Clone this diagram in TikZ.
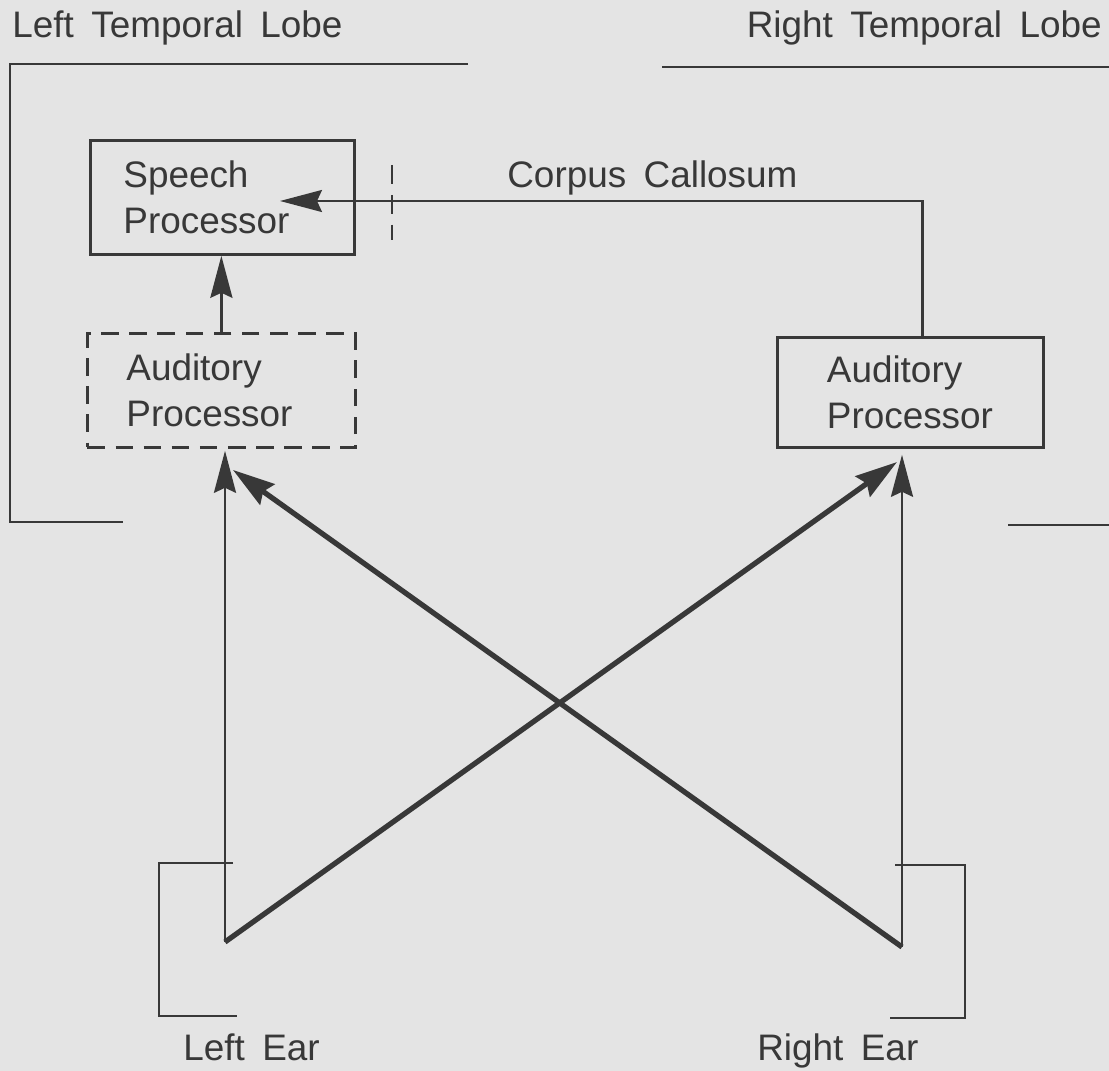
\documentclass[tikz,border=0pt]{standalone}
\usepackage{fontspec}
\setmainfont{Liberation Sans}[WordSpace=1.7]
\usetikzlibrary{arrows.meta}
\definecolor{paper}{HTML}{E4E4E4}
\definecolor{ink}{HTML}{383838}
\newcommand{\figfont}{\fontsize{21pt}{26.2pt}\selectfont}

\begin{document}
\begin{tikzpicture}[x=0.02cm, y=-0.02cm,
        proc/.style={draw=ink, line width=1.6pt, rectangle, anchor=north west, align=left, inner sep=0pt, text=ink, font=\figfont},
        lbl/.style={text=ink, font=\figfont, inner sep=0pt},
        wall/.style={draw=ink, line width=1.5pt},
        feed/.style={draw=ink, line width=1.6pt, -{Stealth[length=0.84cm, width=0.44cm, inset=0.1cm]}},
        cross/.style={draw=ink, line width=3pt, -{Stealth[length=0.84cm, width=0.5cm, inset=0.1cm]}}]
        % Background
        \fill[paper] (0,0) rectangle (1109,1071);
        \useasboundingbox (0,0) rectangle (1109,1071);

        % Nodes
        \node[proc, minimum width=5.28cm, minimum height=2.28cm, text width=3.96cm] (speech) at (89,139) {Speech\\Processor};
        \node[proc, dash pattern=on 10pt off 6pt, minimum width=5.36cm, minimum height=2.28cm, text width=3.8cm] (laud) at (86,332) {Auditory\\Processor};
        \node[proc, minimum width=5.32cm, minimum height=2.2cm, text width=3.34cm] (raud) at (776,336) {Auditory\\Processor};

        \node[lbl, anchor=base west] (ltl) at (12,38) {Left Temporal Lobe};
        \node[lbl, anchor=base east] (rtl) at (1102,38) {Right Temporal Lobe};
        \node[lbl, anchor=base west] (cc) at (507,188) {Corpus Callosum};
        \node[lbl, anchor=base west] (lear) at (183,1060) {Left Ear};
        \node[lbl, anchor=base west] (rear) at (757,1060) {Right Ear};

        \coordinate (lsrc) at (225,942);
        \coordinate (rsrc) at (902,947);
        \coordinate (lin) at (233,470);
        \coordinate (rin) at (897,462);
        \coordinate (cctip) at (280,201);

        % Lobes and ears
        \draw[wall] (468,64) -- (10,64) -- (10,522) -- (123,522);
        \draw[wall] (662,67) -- (1109,67);
        \draw[wall] (1008,525) -- (1109,525);
        \draw[wall] (233,863) -- (159,863) -- (159,1016) -- (237,1016);
        \draw[wall] (895,865) -- (965,865) -- (965,1018) -- (890,1018);
        \draw[wall, dash pattern=on 11pt off 6pt] (392,165) -- (392,240);

        % Arrows
        \draw[feed] (laud.north) -- (laud.north |- speech.south);
        \draw[feed, line width=1.3pt] ([xshift=0.24cm]raud.north) |- (cctip);
        \draw[feed, shorten >=0.04cm] (lsrc) -- (lsrc |- laud.south);
        \draw[feed, shorten >=0.12cm] (rsrc) -- (rsrc |- raud.south);
        \draw[cross] (lsrc) -- (rin);
        \draw[cross] (rsrc) -- (lin);
    \end{tikzpicture}
\end{document}
